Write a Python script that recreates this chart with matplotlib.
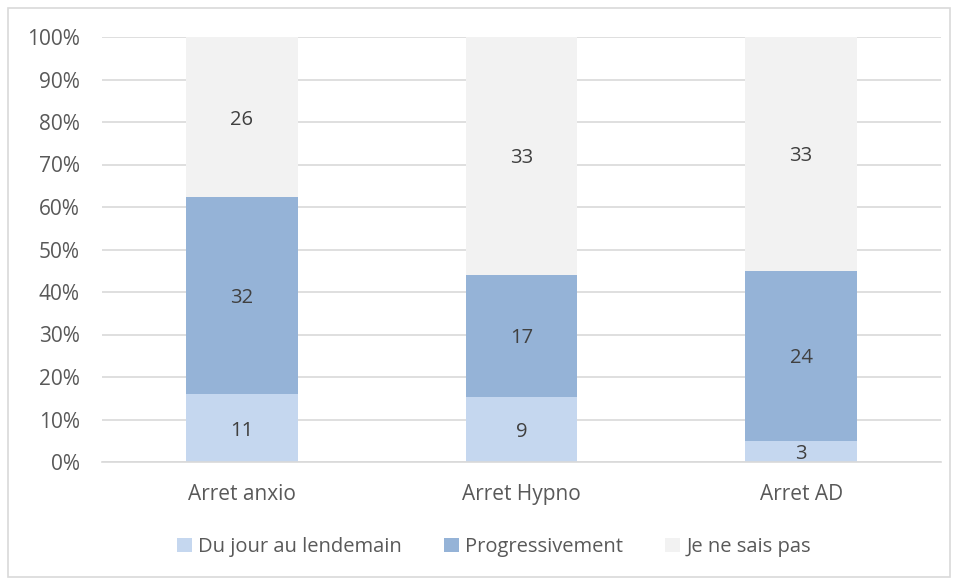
import matplotlib
matplotlib.use("Agg")
import matplotlib.pyplot as plt
from matplotlib.patches import Rectangle
import numpy as np

plt.rcParams['font.family'] = ['Open Sans', 'DejaVu Sans']

categories = ["Arret anxio", "Arret Hypno", "Arret AD"]
series_names = ["Du jour au lendemain", "Progressivement", "Je ne sais pas"]
du_jour = [11, 9, 3]
progressivement = [32, 17, 24]
ne_sais_pas = [26, 33, 33]
colors = ["#c5d7ef", "#95b3d7", "#f2f2f2"]

data = np.array([du_jour, progressivement, ne_sais_pas], dtype=float)
totals = data.sum(axis=0)
pct = data / totals * 100

fig = plt.figure(figsize=(9.59, 5.81), dpi=100)
fig.patches.append(Rectangle((8/959, 1-577/581), (950-8)/959, (577-8)/581,
                             transform=fig.transFigure, fill=False,
                             edgecolor="#d9d9d9", linewidth=1.2))
ax = fig.add_axes([102/959, 1-462/581, (941-102)/959, (462-37)/581])

x = np.arange(len(categories))
bottom = np.zeros(len(categories))
for i, name in enumerate(series_names):
    ax.bar(x, pct[i], 0.4, bottom=bottom, color=colors[i], label=name, zorder=2)
    for j in range(len(categories)):
        ax.text(x[j], bottom[j] + pct[i][j] / 2 - 0.6, f"{int(data[i][j])}",
                ha="center", va="center", fontsize=14.5, color="#404040", zorder=3)
    bottom += pct[i]

ax.set_xlim(-0.5, 2.5)
ax.set_ylim(0, 100)
ax.set_yticks(np.arange(0, 101, 10))
ax.set_yticklabels([f"{v}%" for v in range(0, 101, 10)])
ax.set_xticks(x)
ax.set_xticklabels(categories)
ax.yaxis.grid(True, color="#d9d9d9", linewidth=1.2, zorder=0)
ax.set_axisbelow(True)
for s in ["left", "right", "top"]:
    ax.spines[s].set_visible(False)
ax.spines["bottom"].set_color("#d9d9d9")
ax.spines["bottom"].set_linewidth(1.2)
ax.tick_params(axis="both", length=0, labelsize=15, colors="#595959")
ax.tick_params(axis="y", pad=16)
ax.tick_params(axis="x", pad=16)

leg = fig.legend(loc="center", bbox_to_anchor=(0.515, 1-547/581), ncol=3, frameon=False,
                 fontsize=14.5, handlelength=0.75, handleheight=0.75, columnspacing=2.1,
                 handletextpad=0.3)
for t in leg.get_texts():
    t.set_color("#595959")

fig.savefig("out.png", dpi=100)
